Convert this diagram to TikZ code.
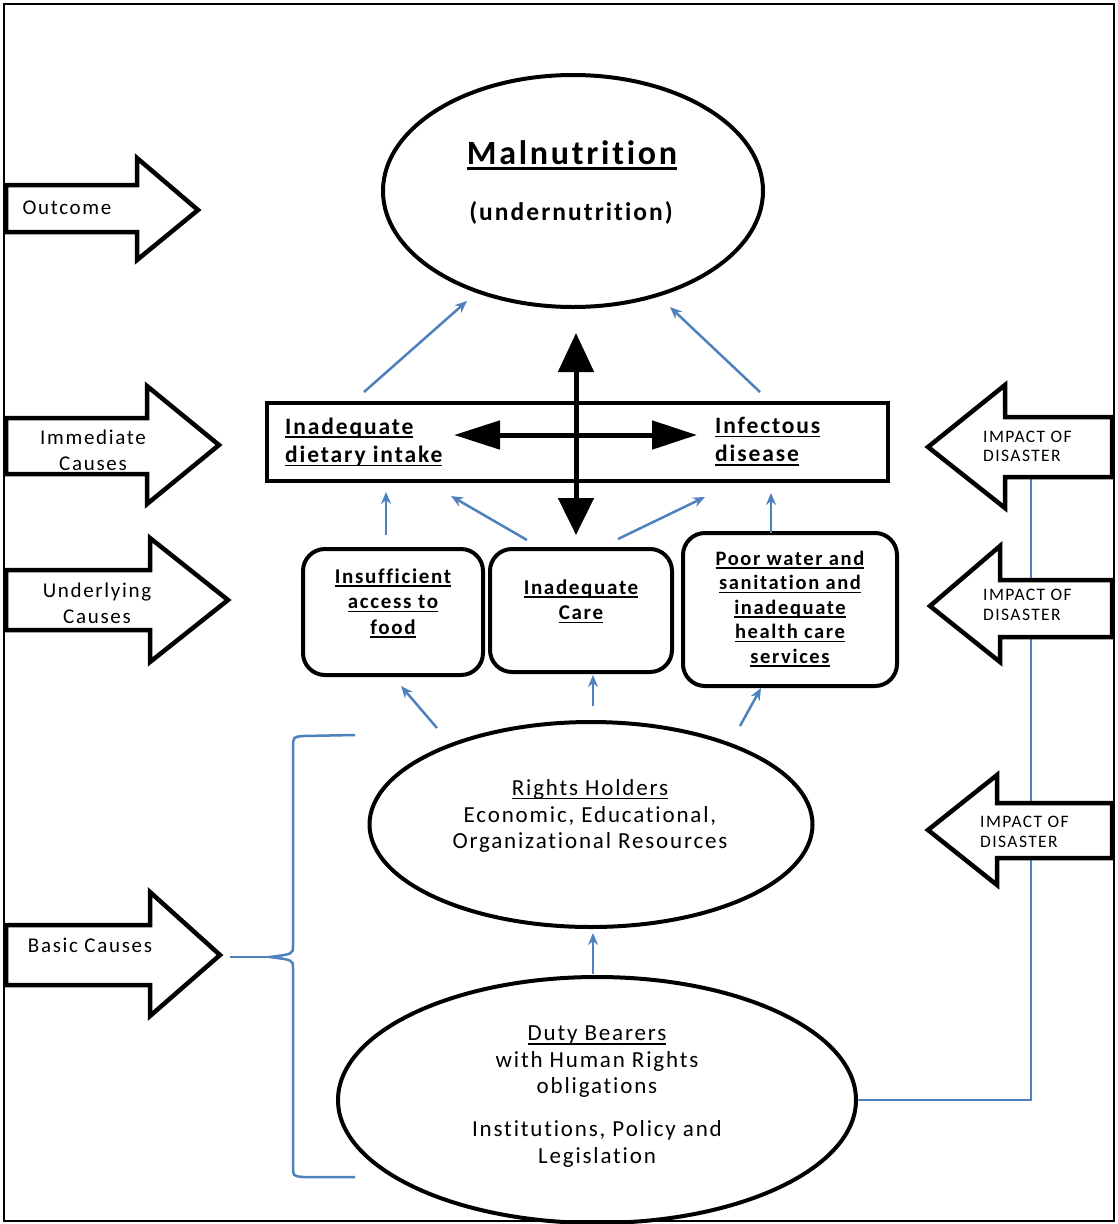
\documentclass[tikz,border=0pt]{standalone}
\usepackage{fontspec}
\setmainfont{Carlito}[LetterSpace=8,Ligatures=NoCommon]
\usetikzlibrary{arrows.meta,shapes.geometric}
\definecolor{bl}{HTML}{4F81BD}
\newcommand{\myul}[1]{\leavevmode\setbox0\hbox{#1}\rlap{\rule[-0.17em]{\wd0}{0.075em}}\box0}
\begin{document}
\begin{tikzpicture}[x=1pt,y=-1pt,
  shapeln/.style={draw=black, line width=4.5pt, fill=white, line join=miter},
  lbl/.style={font=\fontsize{21}{26}\selectfont, align=center, inner sep=0},
  imp/.style={font=\fontsize{17.5}{19.5}\selectfont, align=left, inner sep=0, anchor=west},
  rbox/.style={draw, line width=4pt, rounded corners=22pt, inner sep=0},
  btxt/.style={font=\bfseries\fontsize{21}{25.5}\selectfont, align=center, inner sep=0},
  etxt/.style={font=\fontsize{23}{26.5}\selectfont, align=center, inner sep=0},
  ell/.style={draw, ellipse, line width=4pt, inner sep=0},
  barrow/.style={draw=bl, line width=2.5pt, -{Stealth[length=12pt,width=10pt]}},
  bline/.style={draw=bl, line width=2.5pt}]
\useasboundingbox (0,0) rectangle (1117,1224);
\fill[white] (0,0) rectangle (1117,1224);
\draw[line width=2pt] (4,4) rectangle (1114,1221);

% ellipses
\node[ell, minimum width=380pt, minimum height=232pt] (mal) at (573,191) {};
\node[ell, minimum width=443pt, minimum height=205pt] (rights) at (591,824.5) {};
\node[ell, minimum width=518pt, minimum height=246pt] (duty) at (597,1100) {};

% blue line from disaster arrows to duty bearers
\coordinate (dtop) at (1031,477);
\draw[bline] (dtop) |- (duty.east);

% right arrows (impact of disaster)
\draw[shapeln] (1112,417) -- (1005,417) -- (1005,385) -- (928,447) -- (1005,508) -- (1005,477) -- (1112,477) -- cycle;
\draw[shapeln] (1112,580) -- (1000,580) -- (1000,546) -- (930,606) -- (1000,662) -- (1000,637) -- (1112,637) -- cycle;
\draw[shapeln] (1112,803) -- (997,803) -- (997,775) -- (928,830) -- (997,885) -- (997,858) -- (1112,858) -- cycle;
\node[imp] (i1) at (983,446.5) {IMPACT OF\\DISASTER};
\node[imp] (i2) at (983,605) {IMPACT OF\\DISASTER};
\node[imp] (i3) at (980,832) {IMPACT OF\\DISASTER};

% left arrows
\draw[shapeln] (6,185) -- (137,185) -- (137,158) -- (198,210) -- (137,260) -- (137,232) -- (6,232) -- cycle;
\draw[shapeln] (6,418) -- (147,418) -- (147,386) -- (219,445) -- (147,504) -- (147,474) -- (6,474) -- cycle;
\draw[shapeln] (6,570) -- (150,570) -- (150,538) -- (228,600) -- (150,662) -- (150,630) -- (6,630) -- cycle;
\draw[shapeln] (6,925) -- (150,925) -- (150,892) -- (220,955) -- (150,1016) -- (150,985) -- (6,985) -- cycle;
\node[lbl] (tOut) at (67,208) {Outcome};
\node[lbl] (tImm) at (93,450) {Immediate\\Causes};
\node[lbl] (tUnd) at (97,603) {Underlying\\Causes};
\node[lbl] (tBas) at (90,945) {Basic Causes};

% immediate causes box
\node[draw, line width=4pt, minimum width=621pt, minimum height=78pt, inner sep=0] (imm) at (577.5,442) {};
\node[font=\bfseries\fontsize{23.5}{28.5}\selectfont, align=left, anchor=west, inner sep=0] (t1) at (285,442) {\myul{Inadequate}\\\myul{dietary intake}};
\node[font=\bfseries\fontsize{23.5}{28.5}\selectfont, align=left, anchor=west, inner sep=0] (t2) at (715,441.5) {\myul{Infectous}\\\myul{disease}};

% underlying boxes
\node[rbox, minimum width=180pt, minimum height=126pt] (b1) at (393,612) {};
\node[rbox, minimum width=182pt, minimum height=123pt] (b2) at (581,610.5) {};
\node[rbox, minimum width=214pt, minimum height=153pt] (b3) at (790,609.5) {};
\node[btxt] (bt1) at (393,603) {\myul{Insufficient}\\\myul{access to}\\\myul{food}};
\node[btxt] (bt2) at (581,601.5) {\myul{Inadequate}\\\myul{Care}};
\node[btxt, font=\bfseries\fontsize{20.5}{24.5}\selectfont] (bt3) at (790,609) {\myul{Poor water and}\\\myul{sanitation and}\\\myul{inadequate}\\\myul{health care}\\\myul{services}};

% malnutrition text
\node[font=\bfseries\fontsize{34}{38}\selectfont, inner sep=0] (mt1) at (572,155) {\myul{Malnutrition}};
\node[font=\bfseries\fontsize{25.5}{28}\selectfont, inner sep=0] (mt2) at (571,213) {(undernutrition)};

% ellipse texts
\node[etxt] (rt) at (590,816) {\myul{Rights Holders}\\Economic, Educational,\\Organizational Resources};
\node[etxt] (dt1) at (597,1062) {\myul{Duty Bearers}\\with Human Rights\\obligations};
\node[etxt] (dt2) at (597,1144) {Institutions, Policy and\\Legislation};

% black double arrows
\coordinate (vt) at (576,333);
\coordinate (vb) at (576,535);
\coordinate (hl) at (454,435);
\coordinate (hr) at (697,435);
\draw[line width=5pt, {Triangle[length=39pt,width=35pt]}-{Triangle[length=37pt,width=35pt]}] (vt) -- (vb);
\draw[line width=5pt, {Triangle[length=46pt,width=28pt]}-{Triangle[length=45pt,width=28pt]}] (hl) -- (hr);

% blue arrows
\coordinate (a1s) at (364,392); \coordinate (a1e) at (467,301);
\coordinate (a2s) at (760,392); \coordinate (a2e) at (670,307);
\coordinate (a3s) at (386,535); \coordinate (a3e) at (386,492);
\coordinate (a4s) at (527,540); \coordinate (a4e) at (451,496);
\coordinate (a5s) at (618,539); \coordinate (a5e) at (705,497);
\coordinate (a6s) at (771,533); \coordinate (a6e) at (771,493);
\coordinate (a7s) at (437,728); \coordinate (a7e) at (401,686);
\coordinate (a8s) at (593,706); \coordinate (a8e) at (593,675);
\coordinate (a9s) at (740,726); \coordinate (a9e) at (761,688);
\coordinate (a10s) at (593,974); \coordinate (a10e) at (593,933);
\foreach \k in {1,...,10} {\draw[barrow] (a\k s) -- (a\k e);}

% bracket for basic causes
\coordinate (bcs) at (230,957);
\coordinate (cusp) at (270,957);
\draw[bline] (355,735) -- (303,736) .. controls (293,737) .. (293,748) -- (293,946) .. controls (293,954) .. (cusp) .. controls (293,960) .. (293,968) -- (293,1166) .. controls (293,1176) .. (303,1177) -- (355,1177);
\draw[bline] (bcs) -- (cusp);
\end{tikzpicture}
\end{document}
